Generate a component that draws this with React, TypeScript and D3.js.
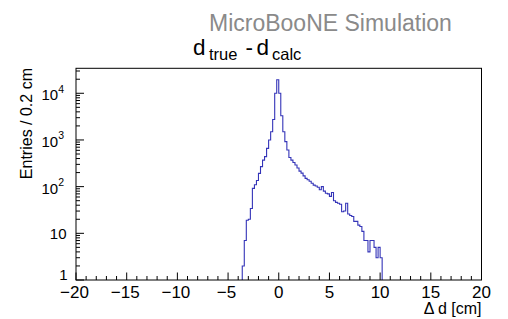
import React from "react";
import * as d3 from "d3";

// Histogram: bins of 0.2 cm starting at -3.6 cm
const binStart = -3.6;
const binWidth = 0.2;
const counts = [
  2, 7, 19, 20, 34, 92, 110, 135, 192, 268, 370, 440, 660, 1000, 1500, 2750, 10000,
  19500,
  10000, 3300, 1500, 920, 610, 420, 370, 330, 290, 250,
  215, 195, 170, 150, 140, 130, 118, 108, 103, 97,
  86, 100, 80, 72, 70, 62, 75, 50, 46, 44,
  42, 29, 30, 44, 26, 24, 23, 18, 18, 15,
  14, 11, 7, 7, 4, 7, 7, 5, 3, 5,
  3,
];
const xTickValues = [-20, -15, -10, -5, 0, 5, 10, 15, 20];
const xTickLabels = ["\u221220", "\u221215", "\u221210", "\u22125", "0", "5", "10", "15", "20"];
const yDecades = [0, 1, 2, 3, 4];
const titleText = "MicroBooNE Simulation";
const yAxisTitle = "Entries / 0.2 cm";
const xAxisTitle = "\u0394 d [cm]";

const FONT = "'Liberation Sans', Arial, Helvetica, sans-serif";

export default function App() {
  const W = 508, H = 319;
  const left = 76, right = 481.5, top = 68.3, bottom = 280;
  const perDecade = 46.68;
  const yMax = Math.pow(10, (bottom - top) / perDecade);
  const x = d3.scaleLinear().domain([-20, 20]).range([left, right]);
  const y = d3.scaleLog().domain([1, yMax]).range([bottom, top]);

  const p = d3.path();
  p.moveTo(x(binStart), y(1));
  counts.forEach((c, i) => {
    const x0 = binStart + i * binWidth;
    const x1 = x0 + binWidth;
    const yy = y(Math.max(c, 1));
    p.lineTo(x(x0), yy);
    p.lineTo(x(x1), yy);
  });
  p.lineTo(x(binStart + counts.length * binWidth), y(1));

  const xMinor: number[] = d3.range(-20, 20.001, 1).filter((v) => Math.abs(v % 5) > 1e-6);
  const yMinor: number[] = [];
  yDecades.forEach((d) => {
    for (let m = 2; m <= 9; m++) {
      const v = m * Math.pow(10, d);
      if (v < yMax) yMinor.push(v);
    }
  });

  return (
    <svg width={W} height={H} style={{ position: "absolute", left: 0, top: 0, background: "#fff" }} fontFamily={FONT}>
      <rect x={0} y={0} width={W} height={H} fill="#fff" />
      {/* MicroBooNE label */}
      <text x={209} y={31} fontSize={23} fill="#8a8a8a">{titleText}</text>
      {/* title d_true - d_calc */}
      <text y={55} fontSize={22.5} fill="#000">
        <tspan x={193}>d</tspan>
        <tspan x={209} y={60} fontSize={16.5}>true</tspan>
        <tspan x={245.5} y={55}>-</tspan>
        <tspan x={256.5}>d</tspan>
        <tspan x={272} y={60} fontSize={16.5}>calc</tspan>
      </text>

      {/* histogram */}
      <path d={p.toString()} fill="none" stroke="#3434b8" strokeWidth={1.1} />

      {/* frame */}
      <rect x={left} y={top} width={right - left} height={bottom - top} fill="none" stroke="#000" strokeWidth={1} />

      {/* x ticks */}
      {xTickValues.map((v) => (
        <line key={"xM" + v} x1={x(v)} x2={x(v)} y1={bottom} y2={bottom - 7.5} stroke="#000" strokeWidth={1} />
      ))}
      {xMinor.map((v) => (
        <line key={"xm" + v} x1={x(v)} x2={x(v)} y1={bottom} y2={bottom - 4} stroke="#000" strokeWidth={1} />
      ))}
      {xTickValues.map((v, i) => (
        <text key={"xl" + v} x={x(v) - (v < 0 ? 1.5 : 0)} y={298} fontSize={17} textAnchor="middle" fill="#000">
          {xTickLabels[i]}
        </text>
      ))}
      <text x={481.5} y={314} fontSize={16} textAnchor="end" fill="#000">{xAxisTitle}</text>

      {/* y ticks */}
      {yDecades.map((d) => (
        <line key={"yM" + d} x1={left} x2={left + 8} y1={y(Math.pow(10, d))} y2={y(Math.pow(10, d))} stroke="#000" strokeWidth={1} />
      ))}
      {yMinor.map((v) => (
        <line key={"ym" + v} x1={left} x2={left + 4} y1={y(v)} y2={y(v)} stroke="#000" strokeWidth={1} />
      ))}
      {yDecades.map((d) => {
        const ty = y(Math.pow(10, d));
        if (d === 0)
          return (
            <text key={"yl" + d} x={67.5} y={279.5} fontSize={15} textAnchor="end">1</text>
          );
        if (d === 1)
          return (
            <text key={"yl" + d} x={66.5} y={ty + 5.5} fontSize={15} textAnchor="end">10</text>
          );
        return (
          <text key={"yl" + d} x={64} y={ty + 7} fontSize={15} textAnchor="end">
            10
            <tspan fontSize={10.5} dy={-7.5}>{String(d)}</tspan>
          </text>
        );
      })}
      <text transform={`translate(32,68) rotate(-90)`} fontSize={16} textAnchor="end" fill="#000">
        {yAxisTitle}
      </text>
    </svg>
  );
}
